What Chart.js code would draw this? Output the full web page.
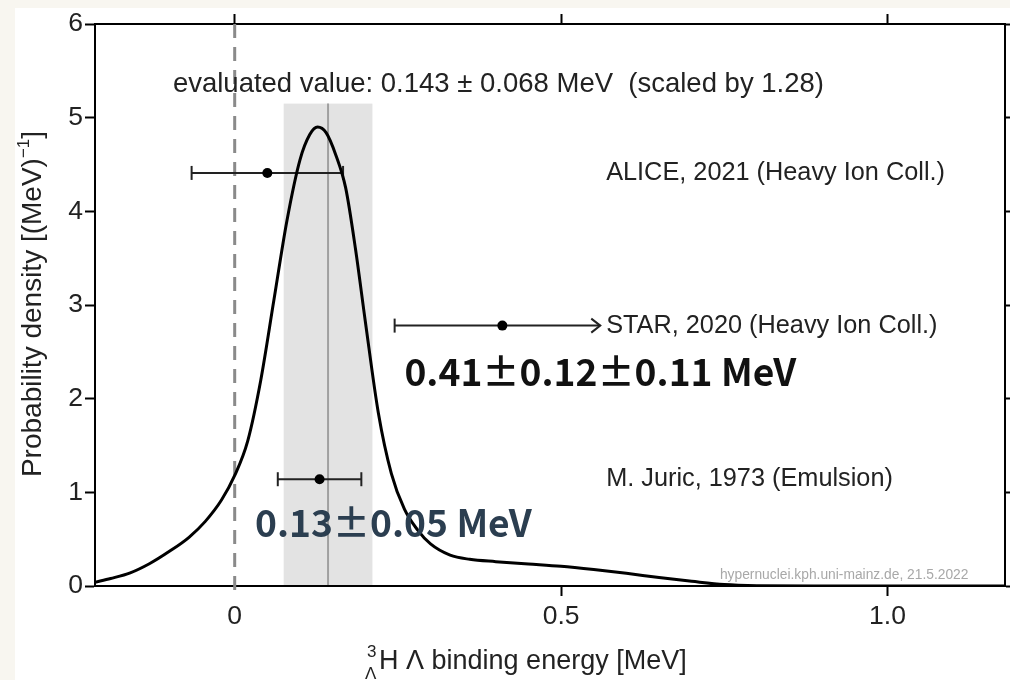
<!DOCTYPE html>
<html>
<head>
<meta charset="utf-8">
<title>Hypertriton Λ binding energy</title>
<script src="https://cdn.jsdelivr.net/npm/chart.js@4/dist/chart.umd.min.js"></script>
<style>
  html, body { margin: 0; padding: 0; background: #f8f6f0; }
  canvas { display: block; }
</style>
</head>
<body>
<canvas id="chart" width="1010" height="680"></canvas>
<script>
// combined probability density of the binding energy
const curveX = [-0.214, -0.19, -0.16, -0.13, -0.10, -0.07, -0.045, -0.02, 0.0, 0.02, 0.04, 0.06, 0.08, 0.10,
  0.115, 0.127, 0.14, 0.155, 0.17, 0.185, 0.20, 0.22, 0.24, 0.26, 0.28, 0.30, 0.33, 0.36, 0.40, 0.45,
  0.50, 0.55, 0.60, 0.65, 0.70, 0.75, 0.80, 0.90, 1.0, 1.18];
const curveY = [0.04, 0.08, 0.14, 0.24, 0.37, 0.52, 0.69, 0.92, 1.18, 1.55, 2.2, 3.05, 3.9, 4.55,
  4.82, 4.9, 4.84, 4.6, 4.25, 3.6, 2.83, 1.85, 1.2, 0.82, 0.6, 0.45, 0.33, 0.285, 0.26, 0.235,
  0.21, 0.175, 0.135, 0.09, 0.05, 0.015, 0.004, 0.001, 0, 0];

// individual measurements
const expNames = ['ALICE, 2021 (Heavy Ion Coll.)', 'STAR, 2020 (Heavy Ion Coll.)', 'M. Juric, 1973 (Emulsion)'];
const expValue = [0.05, 0.41, 0.13];
const expErrLo = [0.116, 0.165, 0.064];
const expErrHi = [0.116, 0.15, 0.064];
const expArrow = [false, true, false];
const expRow = [4.41, 2.78, 1.14];

// quoted results written next to two of the measurements
const noteText = ['0.41±0.12±0.11 MeV', '0.13±0.05 MeV'];
const noteColor = ['#111111', '#2b3e50'];

// evaluated (averaged) value
const evalValue = 0.143;
const evalError = 0.068;
const evalScale = 1.28;
const bandTop = 5.15;

const xTicks = [0, 0.5, 1.0];
const xTickLabels = ['0', '0.5', '1.0'];
const sourceNote = 'hypernuclei.kph.uni-mainz.de, 21.5.2022';

const sans = '"Liberation Sans", Arial, sans-serif';
Chart.defaults.font.family = sans;
Chart.defaults.color = '#222';

function line(ctx, x1, y1, x2, y2) {
    ctx.beginPath();
    ctx.moveTo(x1, y1);
    ctx.lineTo(x2, y2);
    ctx.stroke();
}

// draws text pieces one after another, each with its own font and vertical shift
function drawRuns(ctx, runs, x, y) {
    let cx = x;
    runs.forEach(r => {
        ctx.font = r.font;
        ctx.fillText(r.text, cx, y + (r.dy || 0));
        cx += ctx.measureText(r.text).width;
    });
}

function runsWidth(ctx, runs) {
    let w = 0;
    runs.forEach(r => {
        ctx.font = r.font;
        w += ctx.measureText(r.text).width;
    });
    return w;
}

const overlay = {
    id: 'overlay',
    beforeDraw(chart) {
        const ctx = chart.ctx;
        ctx.save();
        ctx.fillStyle = '#f8f6f0';
        ctx.fillRect(0, 0, chart.width, chart.height);
        ctx.fillStyle = '#ffffff';
        ctx.fillRect(15, 8, chart.width - 15, chart.height - 8);
        ctx.restore();
    },
    beforeDatasetsDraw(chart) {
        const { ctx, chartArea: a, scales: { x, y } } = chart;
        ctx.save();

        // ±1 sigma band around the evaluated value
        const bl = x.getPixelForValue(evalValue - evalError);
        const br = x.getPixelForValue(evalValue + evalError);
        const bt = y.getPixelForValue(bandTop);
        ctx.fillStyle = '#e3e3e3';
        ctx.fillRect(bl, bt, br - bl, a.bottom - bt - 1);

        ctx.strokeStyle = '#a0a0a0';
        ctx.lineWidth = 2;
        const cx = x.getPixelForValue(evalValue);
        line(ctx, cx, bt, cx, a.bottom - 1);

        // dashed marker at zero binding
        const zx = x.getPixelForValue(0);
        ctx.strokeStyle = '#8a8a8a';
        ctx.lineWidth = 3;
        ctx.setLineDash([14, 9]);
        line(ctx, zx, a.top, zx, a.bottom + 10);
        ctx.setLineDash([]);

        // horizontal error bars
        ctx.strokeStyle = '#222';
        ctx.lineWidth = 2;
        expValue.forEach((v, i) => {
            const py = y.getPixelForValue(expRow[i]);
            const lo = x.getPixelForValue(v - expErrLo[i]);
            const hi = x.getPixelForValue(v + expErrHi[i]);
            line(ctx, lo, py, hi, py);
            line(ctx, lo, py - 7, lo, py + 7);
            if (expArrow[i]) {
                ctx.beginPath();
                ctx.moveTo(hi - 9, py - 7);
                ctx.lineTo(hi, py);
                ctx.lineTo(hi - 9, py + 7);
                ctx.stroke();
            } else {
                line(ctx, hi, py - 7, hi, py + 7);
            }
        });
        ctx.restore();
    },
    afterDraw(chart) {
        const { ctx, chartArea: a, scales: { x, y } } = chart;
        ctx.save();
        ctx.fillStyle = '#222';
        ctx.textBaseline = 'middle';

        // headline with the evaluated value
        ctx.font = '27.5px ' + sans;
        ctx.textAlign = 'center';
        ctx.fillText(`evaluated value: ${evalValue.toFixed(3)} ± ${evalError.toFixed(3)} MeV  (scaled by ${evalScale.toFixed(2)})`,
            x.getPixelForValue(0.404), y.getPixelForValue(5.36));

        // experiment names
        ctx.textAlign = 'left';
        ctx.font = '25.3px ' + sans;
        expNames.forEach((name, i) => {
            ctx.fillText(name, x.getPixelForValue(0.569), y.getPixelForValue(expRow[i]));
        });

        // quoted values in bold
        const notePos = [[0.26, 2.285], [0.031, 0.673]];
        ctx.font = '700 37.2px "Noto Sans CJK SC", sans-serif';
        noteText.forEach((t, i) => {
            ctx.fillStyle = noteColor[i];
            ctx.fillText(t, x.getPixelForValue(notePos[i][0]), y.getPixelForValue(notePos[i][1]));
        });

        // source line in the lower right corner
        ctx.fillStyle = '#a8a8a8';
        ctx.font = '13.8px ' + sans;
        ctx.textAlign = 'right';
        ctx.fillText(sourceNote, x.getPixelForValue(1.124), a.bottom - 11);

        // y axis title with superscript exponent
        ctx.fillStyle = '#222';
        ctx.textAlign = 'left';
        const yRuns = [
            { text: 'Probability density [(MeV)', font: '28px ' + sans },
            { text: '−1', font: '17px ' + sans, dy: -9 },
            { text: ']', font: '28px ' + sans }
        ];
        ctx.translate(33, (a.top + a.bottom) / 2 - 1);
        ctx.rotate(-Math.PI / 2);
        drawRuns(ctx, yRuns, -runsWidth(ctx, yRuns) / 2, 0);
        ctx.setTransform(1, 0, 0, 1, 0, 0);

        // x axis title: hypertriton symbol with stacked pre-scripts
        ctx.textBaseline = 'alphabetic';
        const tx = 365, ty = 669;
        ctx.font = '17px ' + sans;
        ctx.fillText('3', tx + 2, ty - 12);
        ctx.fillText('Λ', tx, ty + 10);
        ctx.font = '27px ' + sans;
        ctx.fillText('H Λ binding energy [MeV]', tx + 14, ty);
        ctx.restore();
    }
};

function tickLabel(value) {
    const i = xTicks.indexOf(value);
    return i >= 0 ? xTickLabels[i] : '';
}

const axisBorder = { display: true, color: '#000', width: 2 };
const tickFont = { size: 26.5 };

const chart = new Chart(document.getElementById('chart'), {
    type: 'line',
    data: {
        datasets: [{
            label: 'measurements',
            data: expValue.map((v, i) => ({ x: v, y: expRow[i] })),
            showLine: false,
            pointRadius: 5,
            pointBackgroundColor: '#000',
            pointBorderColor: '#000',
            pointBorderWidth: 0
        }, {
            label: 'probability density',
            data: curveX.map((v, i) => ({ x: v, y: curveY[i] })),
            borderColor: '#000',
            borderWidth: 3,
            pointRadius: 0,
            fill: false,
            cubicInterpolationMode: 'monotone'
        }]
    },
    options: {
        responsive: false,
        animation: false,
        events: [],
        devicePixelRatio: 1,
        layout: { padding: 0 },
        plugins: { legend: { display: false }, tooltip: { enabled: false } },
        scales: {
            x: {
                type: 'linear',
                position: 'bottom',
                min: -0.214,
                max: 1.18,
                afterFit: s => { s.height = 94; },
                border: axisBorder,
                grid: {
                    drawOnChartArea: false,
                    tickLength: 10,
                    tickWidth: 2,
                    tickColor: c => (c.tick && c.tick.value === 0 ? 'rgba(0,0,0,0)' : '#000')
                },
                ticks: {
                    stepSize: 0.5,
                    includeBounds: false,
                    autoSkip: false,
                    maxRotation: 0,
                    padding: 5,
                    font: tickFont,
                    callback: tickLabel
                }
            },
            x2: {
                type: 'linear',
                position: 'top',
                min: -0.214,
                max: 1.18,
                afterFit: s => { s.height = 24; },
                border: axisBorder,
                grid: { drawOnChartArea: false, tickLength: 10, tickWidth: 2, tickColor: '#000' },
                ticks: { display: false, stepSize: 0.5, includeBounds: false }
            },
            y: {
                type: 'linear',
                position: 'left',
                min: 0,
                max: 6,
                afterFit: s => { s.width = 95; },
                border: axisBorder,
                grid: { drawOnChartArea: false, tickLength: 10, tickWidth: 2, tickColor: '#000' },
                ticks: { stepSize: 1, padding: 2, font: tickFont }
            },
            y2: {
                type: 'linear',
                position: 'right',
                min: 0,
                max: 6,
                afterFit: s => { s.width = 3; },
                border: axisBorder,
                grid: { drawOnChartArea: false, tickLength: 10, tickWidth: 2, tickColor: '#000' },
                ticks: { display: false, stepSize: 1 }
            }
        }
    },
    plugins: [overlay]
});
</script>
</body>
</html>
